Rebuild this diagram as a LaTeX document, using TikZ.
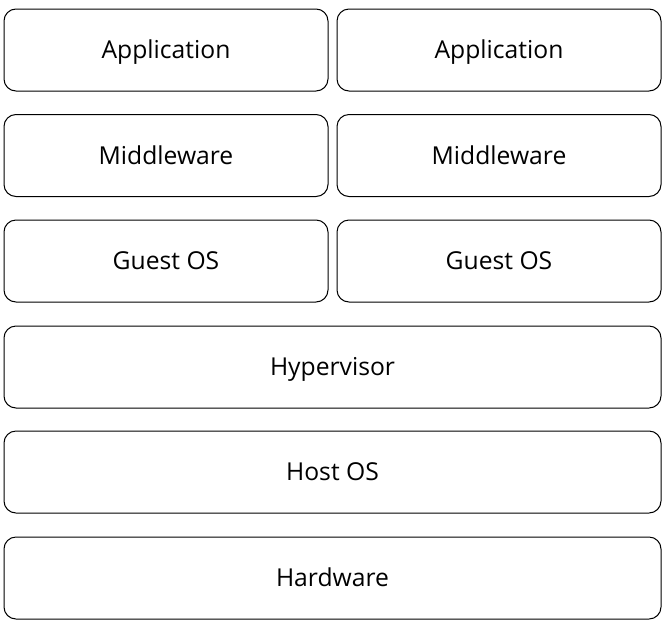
\documentclass[tikz,border=0pt]{standalone}
\usepackage{fontspec}
\setmainfont{Open Sans}
\tikzset{every picture/.style={line width=0.75pt}}
\tikzset{
  layerbox/.style={draw, rounded corners=9pt, minimum height=61.5pt, inner sep=0.75pt, text height=13.2pt, text depth=0pt, font=\fontsize{18.5pt}{22pt}\selectfont},
  halfbox/.style={layerbox, minimum width=243pt},
  fullbox/.style={layerbox, minimum width=492.75pt}
}

\begin{document}
\begin{tikzpicture}[x=0.75pt,y=0.75pt,yscale=-1,xscale=1]
\useasboundingbox (0,0) rectangle (667,629);

% Rounded Rect
\node [halfbox] (appl) at (166,50) {Application};
% Rounded Rect
\node [halfbox] (appr) at (499,50) {Application};
% Rounded Rect
\node [halfbox] (midl) at (166,155.5) {Middleware};
% Rounded Rect
\node [halfbox] (midr) at (499,155.5) {Middleware};
% Rounded Rect
\node [halfbox] (guestl) at (166,261) {Guest OS};
% Rounded Rect
\node [halfbox] (guestr) at (499,261) {Guest OS};
% Rounded Rect
\node [fullbox] (hyper) at (332.5,367) {Hypervisor};
% Rounded Rect
\node [fullbox] (host) at (332.5,472) {Host OS};
% Rounded Rect
\node [fullbox] (hw) at (332.5,578) {Hardware};

\end{tikzpicture}
\end{document}
